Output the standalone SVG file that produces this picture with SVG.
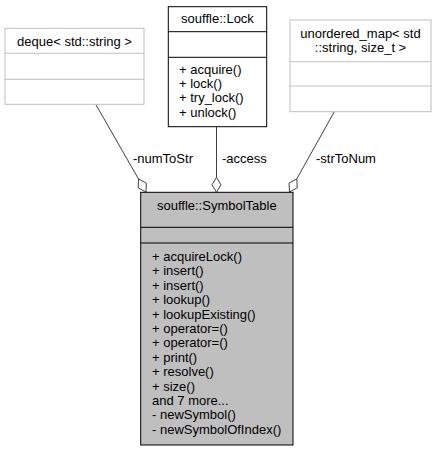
<svg xmlns="http://www.w3.org/2000/svg" width="436" height="451" viewBox="0 0 436 451">
<style>
  text { font-family: "Liberation Sans", Arial, sans-serif; font-size: 13px; fill: #000; }
  .mid { text-anchor: middle; }
  .ext { fill: #fff; stroke: #bfbfbf; stroke-width: 1; }
  .extline { stroke: #bfbfbf; stroke-width: 1; }
  .cls { fill: #fff; stroke: #000; stroke-width: 1; }
  .main { fill: #bfbfbf; stroke: #000; stroke-width: 1; }
  .clsline { stroke: #000; stroke-width: 1; }
  .edge { stroke: #404040; stroke-width: 1; fill: none; }
  .dia { fill: #fff; stroke: #404040; stroke-width: 1; }
</style>
<rect width="436" height="451" fill="#fff"/>

<g id="connectors">
  <line class="edge" x1="95.7" y1="104.3" x2="138.5" y2="179"/>
  <polygon class="dia" points="146,192 146.35,183.16 138.5,179 138.19,187.84"/>
  <text x="133" y="162.5">-numToStr</text>

  <line class="edge" x1="216.5" y1="126.7" x2="216.5" y2="177.3"/>
  <polygon class="dia" points="216.5,192.3 212,184.8 216.5,177.3 221,184.8"/>
  <text x="222" y="162.5">-access</text>

  <line class="edge" x1="334.3" y1="111.7" x2="296.8" y2="178.9"/>
  <polygon class="dia" points="289.5,192 297.25,187.75 296.8,178.9 289.05,183.15"/>
  <text x="316" y="162.5">-strToNum</text>
</g>

<g id="deque">
  <rect class="ext" x="5" y="28.3" width="139" height="76"/>
  <line class="extline" x1="5" y1="53.3" x2="144" y2="53.3"/>
  <line class="extline" x1="5" y1="79.3" x2="144" y2="79.3"/>
  <text class="mid" x="74.5" y="46">deque&lt; std::string &gt;</text>
</g>

<g id="lock">
  <rect class="cls" x="168.3" y="6.7" width="98.4" height="120"/>
  <line class="clsline" x1="168.3" y1="31.7" x2="266.7" y2="31.7"/>
  <line class="clsline" x1="168.3" y1="57.3" x2="266.7" y2="57.3"/>
  <text class="mid" x="217.5" y="23.3">souffle::Lock</text>
  <text x="179" y="74">+ acquire()</text>
  <text x="179" y="88.2">+ lock()</text>
  <text x="179" y="102.4">+ try_lock()</text>
  <text x="179" y="116.6">+ unlock()</text>
</g>

<g id="unordered_map">
  <rect class="ext" x="290" y="20" width="141" height="91.7"/>
  <line class="extline" x1="290" y1="61.7" x2="431" y2="61.7"/>
  <line class="extline" x1="290" y1="86" x2="431" y2="86"/>
  <text class="mid" x="360.5" y="37.7">unordered_map&lt; std</text>
  <text class="mid" x="360.5" y="52.3">::string, size_t &gt;</text>
</g>

<g id="symboltable">
  <rect class="main" x="140.7" y="192.3" width="152.3" height="252.7"/>
  <line class="clsline" x1="140.7" y1="227.3" x2="293" y2="227.3"/>
  <line class="clsline" x1="140.7" y1="243" x2="293" y2="243"/>
  <text class="mid" x="216.8" y="209.5">souffle::SymbolTable</text>
  <text x="152" y="261">+ acquireLock()</text>
  <text x="152" y="275.4">+ insert()</text>
  <text x="152" y="289.8">+ insert()</text>
  <text x="152" y="304.2">+ lookup()</text>
  <text x="152" y="318.6">+ lookupExisting()</text>
  <text x="152" y="333">+ operator=()</text>
  <text x="152" y="347.4">+ operator=()</text>
  <text x="152" y="361.8">+ print()</text>
  <text x="152" y="376.2">+ resolve()</text>
  <text x="152" y="390.6">+ size()</text>
  <text x="152" y="405">and 7 more...</text>
  <text x="152" y="419.4">- newSymbol()</text>
  <text x="152" y="433.8">- newSymbolOfIndex()</text>
</g>
</svg>
